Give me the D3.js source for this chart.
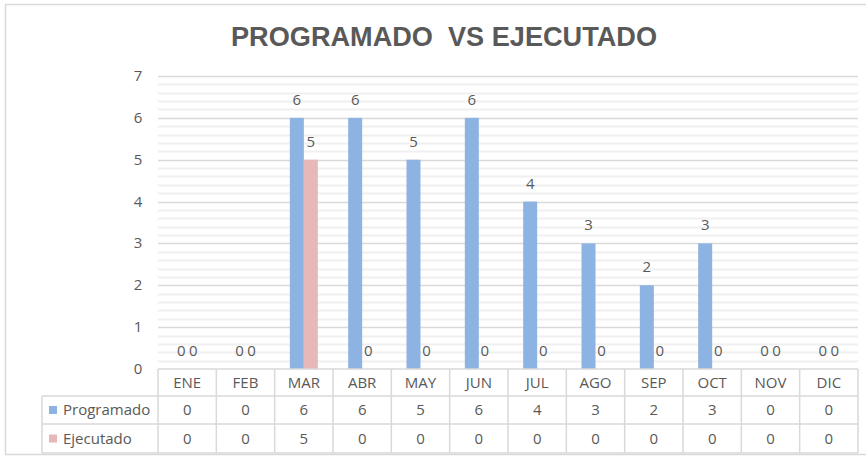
<!DOCTYPE html>
<html>
<head>
<meta charset="utf-8">
<script src="https://cdn.jsdelivr.net/npm/d3@7"></script>
<style>
  body { margin: 0; background: #fff; }
  svg text { font-family: "Open Sans", "Liberation Sans", sans-serif; }
</style>
</head>
<body>
<svg id="vis" width="866" height="458"></svg>
<script>
// chart data
var months = ["ENE", "FEB", "MAR", "ABR", "MAY", "JUN", "JUL", "AGO", "SEP", "OCT", "NOV", "DIC"];
var programado = [0, 0, 6, 6, 5, 6, 4, 3, 2, 3, 0, 0];
var ejecutado = [0, 0, 5, 0, 0, 0, 0, 0, 0, 0, 0, 0];
var seriesNames = ["Programado", "Ejecutado"];
var yTicks = [0, 1, 2, 3, 4, 5, 6, 7];

var colors = ["#8db3e2", "#e6b9b8"];
var textColor = "#595959";

var svg = d3.select("#vis");

// outer chart frame
svg.append("rect")
    .attr("x", 5.5).attr("y", 4.5)
    .attr("width", 866).attr("height", 450)
    .attr("fill", "none")
    .attr("stroke", "#d9d9d9")
    .attr("stroke-width", 1.5);

var plot = { left: 158, right: 858, top: 76, bottom: 369 };

var x = d3.scaleBand()
    .domain(months)
    .range([plot.left, plot.right]);

var y = d3.scaleLinear()
    .domain([0, 7])
    .range([plot.bottom, plot.top]);

// title (double space kept like the original)
svg.append("text")
    .attr("x", 444)
    .attr("y", 46)
    .attr("text-anchor", "middle")
    .attr("fill", textColor)
    .attr("font-weight", "bold")
    .attr("font-size", "27px")
    .style("font-family", "'Liberation Sans', Arial, sans-serif")
    .style("white-space", "pre")
    .attr("textLength", 426)
    .attr("lengthAdjust", "spacingAndGlyphs")
    .text("PROGRAMADO  VS EJECUTADO");

// minor gridlines
var minor = d3.range(0, 7, 0.2).filter(v => Math.abs(v - Math.round(v)) > 0.01);
svg.append("g").selectAll("line")
    .data(minor)
    .join("line")
    .attr("x1", plot.left).attr("x2", plot.right)
    .attr("y1", d => Math.round(y(d)) + 0.5)
    .attr("y2", d => Math.round(y(d)) + 0.5)
    .attr("stroke", "#f0f0f0")
    .attr("stroke-width", 2);

// major gridlines
svg.append("g").selectAll("line")
    .data(yTicks.slice(1))
    .join("line")
    .attr("x1", plot.left).attr("x2", plot.right)
    .attr("y1", d => Math.round(y(d)) + 0.5)
    .attr("y2", d => Math.round(y(d)) + 0.5)
    .attr("stroke", "#d9d9d9")
    .attr("stroke-width", 1.5);

// y axis labels
svg.append("g").selectAll("text")
    .data(yTicks)
    .join("text")
    .attr("x", 138)
    .attr("y", d => y(d) + 5)
    .attr("text-anchor", "middle")
    .attr("fill", textColor)
    .attr("font-size", "15px")
    .text(d => d);

// bars
var barW = 14;
var series = [programado, ejecutado];
series.forEach(function(vals, s) {
    var g = svg.append("g");
    g.selectAll("rect")
        .data(months)
        .join("rect")
        .attr("x", (m, i) => x(m) + x.bandwidth() / 2 - barW + s * barW)
        .attr("y", (m, i) => y(vals[i]))
        .attr("width", barW)
        .attr("height", (m, i) => y(0) - y(vals[i]))
        .attr("fill", colors[s]);

    g.selectAll("text")
        .data(months)
        .join("text")
        .attr("x", (m, i) => x(m) + x.bandwidth() / 2 - barW / 2 + s * barW + (vals[i] == 0 ? (s == 0 ? 1 : -1) : 0))
        .attr("y", (m, i) => y(vals[i]) - 13)
        .attr("text-anchor", "middle")
        .attr("fill", textColor)
        .attr("font-size", "15px")
        .text((m, i) => vals[i]);
});

// data table
var rowTop = [369, 396, 424, 453];
var tableLeft = 42;
var grid = svg.append("g")
    .attr("stroke", "#d9d9d9")
    .attr("stroke-width", 1.5);

// horizontal lines
grid.append("line")
    .attr("x1", plot.left).attr("x2", plot.right)
    .attr("y1", rowTop[0]).attr("y2", rowTop[0]);
rowTop.slice(1).forEach(function(r) {
    grid.append("line")
        .attr("x1", tableLeft).attr("x2", plot.right)
        .attr("y1", r).attr("y2", r);
});

// vertical lines
months.forEach(function(m) {
    grid.append("line")
        .attr("x1", x(m)).attr("x2", x(m))
        .attr("y1", rowTop[0]).attr("y2", rowTop[3]);
});
grid.append("line")
    .attr("x1", plot.right).attr("x2", plot.right)
    .attr("y1", rowTop[0]).attr("y2", rowTop[3]);
grid.append("line")
    .attr("x1", tableLeft).attr("x2", tableLeft)
    .attr("y1", rowTop[1]).attr("y2", rowTop[3]);

// month header
svg.append("g").selectAll("text")
    .data(months)
    .join("text")
    .attr("x", m => x(m) + x.bandwidth() / 2)
    .attr("y", (rowTop[0] + rowTop[1]) / 2 + 5)
    .attr("text-anchor", "middle")
    .attr("fill", textColor)
    .attr("font-size", "15px")
    .text(m => m);

// series rows
series.forEach(function(vals, s) {
    var cy = (rowTop[s + 1] + rowTop[s + 2]) / 2;
    svg.append("rect")
        .attr("x", 49).attr("y", cy - 4)
        .attr("width", 8).attr("height", 8)
        .attr("fill", colors[s]);
    svg.append("text")
        .attr("x", 63)
        .attr("y", cy + 5)
        .attr("fill", textColor)
        .attr("font-size", "15px")
        .text(seriesNames[s]);
    svg.append("g").selectAll("text")
        .data(months)
        .join("text")
        .attr("x", m => x(m) + x.bandwidth() / 2)
        .attr("y", cy + 5)
        .attr("text-anchor", "middle")
        .attr("fill", textColor)
        .attr("font-size", "15px")
        .text((m, i) => vals[i]);
});
</script>
</body>
</html>
